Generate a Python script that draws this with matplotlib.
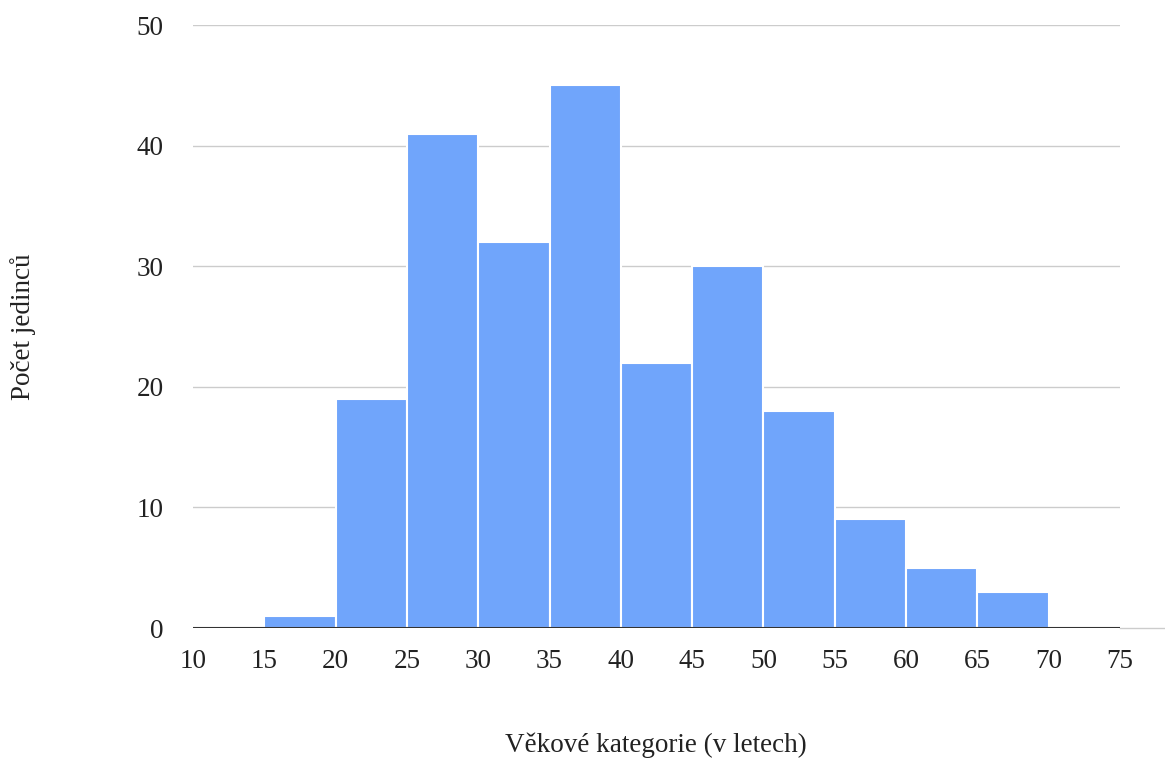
import matplotlib
matplotlib.use("Agg")
import matplotlib.pyplot as plt

bin_edges = [15, 20, 25, 30, 35, 40, 45, 50, 55, 60, 65, 70]
counts = [1, 19, 41, 32, 45, 22, 30, 18, 9, 5, 3]
x_ticks = [10, 15, 20, 25, 30, 35, 40, 45, 50, 55, 60, 65, 70, 75]
y_ticks = [0, 10, 20, 30, 40, 50]

plt.rcParams['font.family'] = ['Liberation Serif', 'DejaVu Serif']

W, H = 1165, 758
fig = plt.figure(figsize=(W / 100, H / 100), dpi=100)
ax = fig.add_axes([193 / W, 130 / H, (1120 - 193) / W, (628 - 25) / H])

lefts = bin_edges[:-1]
widths = [b - a for a, b in zip(bin_edges[:-1], bin_edges[1:])]
ax.bar(lefts, counts, width=widths, align='edge', color='#70a5fb',
       edgecolor='white', linewidth=1.5, zorder=2)

ax.set_xlim(10, 75)
ax.set_ylim(0, 50)
ax.set_xticks(x_ticks)
ax.set_yticks(y_ticks)
ax.grid(axis='y', color='#cccccc', linewidth=1, zorder=0)
ax.axhline(0, color='#333333', linewidth=1.5, zorder=3)
ax.plot([75, 78.2], [0, 0], color='#cccccc', linewidth=1, clip_on=False)
for s in ax.spines.values():
    s.set_visible(False)
ax.tick_params(length=0, labelsize=19.5, colors='#222222')
ax.tick_params(axis='y', pad=21)
ax.tick_params(axis='x', pad=15)

fig.text(656 / W, 1 - 745 / H, 'Věkové kategorie (v letech)', fontsize=19.5,
         color='#222222', ha='center', va='center')
fig.text(23 / W, 1 - 327 / H, 'Počet jedinců', fontsize=19.5, color='#222222',
         ha='center', va='center', rotation=90)

fig.savefig('out.png', dpi=100)
